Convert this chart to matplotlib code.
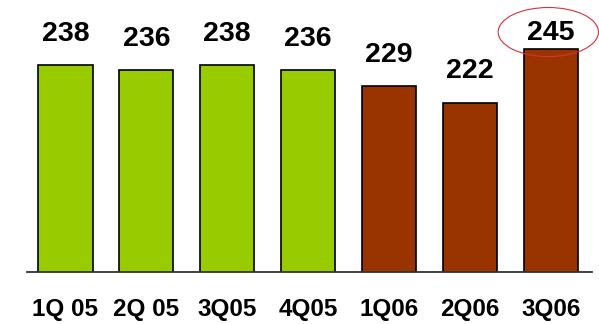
import matplotlib
matplotlib.use('Agg')
import matplotlib.pyplot as plt
from matplotlib.patches import Ellipse
import numpy as np

quarters = ['1Q 05', '2Q 05', '3Q05', '4Q05', '1Q06', '2Q06', '3Q06']
values = [238, 236, 238, 236, 229, 222, 245]
bar_colors = ['#99CC00'] * 4 + ['#993300'] * 3
highlight = 6  # quarter circled in red

plt.rcParams['font.family'] = ['Liberation Sans', 'DejaVu Sans']

fig = plt.figure(figsize=(5.99, 3.24), dpi=100)
W, H = 599, 324
ax = fig.add_axes([27 / W, (H - 272) / H, (592 - 27) / W, 272 / H])

x = np.arange(len(quarters))
ax.bar(x, values, width=0.67, color=bar_colors, edgecolor='black', linewidth=1.2, zorder=2)

for i, (xi, v) in enumerate(zip(x, values)):
    # the circled label sits tight on its bar so it stays inside the frame
    off = 6.5 if i == highlight else 17.5
    ax.annotate(str(v), (xi, v), xytext=(0, off), textcoords='offset points',
                ha='center', va='baseline', fontsize=20.5, fontweight='bold')

ax.set_xlim(-0.476, 6.51)
ax.set_ylim(150, 150 + 272 / 2.35)

ax.add_patch(Ellipse((highlight - 0.03, values[highlight] + 7.1), 1.24, 20.9,
                     fill=False, edgecolor='#D9303A', linewidth=0.8, clip_on=False, zorder=3))

for side in ['top', 'right', 'left']:
    ax.spines[side].set_visible(False)
ax.spines['bottom'].set_color('#333333')
ax.spines['bottom'].set_linewidth(1.3)
ax.set_yticks([])
ax.set_xticks(x)
ax.set_xticklabels(quarters, fontsize=17.5, fontweight='bold')
ax.tick_params(axis='x', length=0, pad=18.5)

fig.savefig('out.png', dpi=100)
